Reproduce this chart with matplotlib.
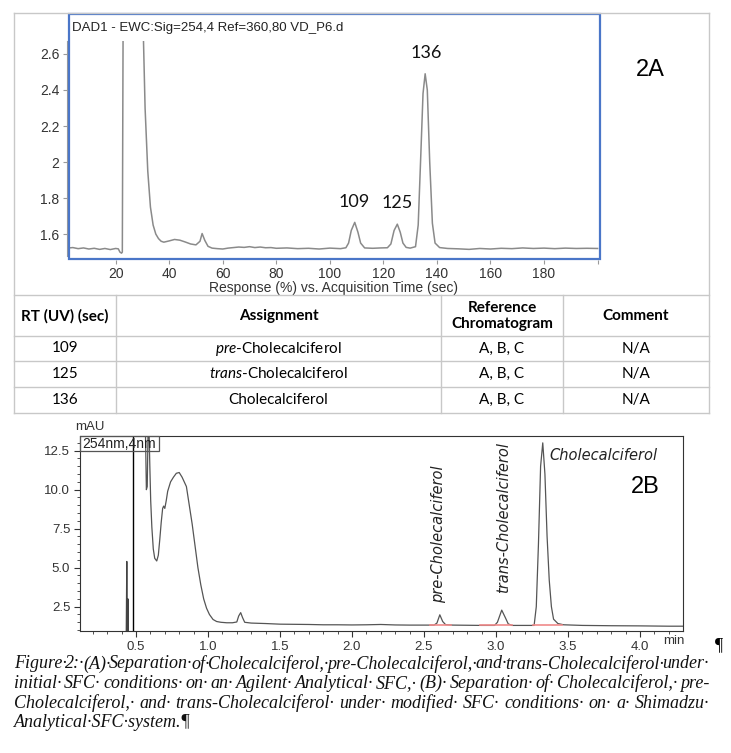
import matplotlib
matplotlib.use("Agg")
import matplotlib.pyplot as plt
from matplotlib.patches import Rectangle
from matplotlib.lines import Line2D
from matplotlib.ticker import MultipleLocator, FixedLocator

W, H = 731, 753

# ---- 2A: Agilent SFC trace, response vs time (sec) ----
a_time = [2, 4, 6, 8, 10, 12, 14, 16, 18, 20, 21, 21.6, 22.2, 22.5, 22.8, 30.2, 31, 32, 33, 34,
          35, 36, 37, 38, 40, 42, 44, 46, 48, 50, 51.5, 52.3, 53.3, 54.5, 56, 58, 60, 62, 64, 66,
          68, 70, 72, 74, 76, 78, 80, 84, 88, 92, 96, 100, 104, 106, 107, 108, 109.3, 110.5, 111.5, 113,
          116, 119, 121.5, 122.8, 124, 125.2, 126.3, 127.3, 128.5, 130, 132, 133, 134, 134.8, 135.6, 136.4, 137.3, 138.3, 139.3, 141,
          144, 148, 152, 156, 160, 164, 168, 172, 176, 180, 184, 188, 192, 196, 200]
a_resp = [1.522, 1.525, 1.519, 1.523, 1.517, 1.521, 1.515, 1.52, 1.514, 1.52, 1.518, 1.50, 1.494, 1.50, 2.80, 2.80, 2.30, 1.95, 1.75, 1.65,
          1.60, 1.575, 1.56, 1.555, 1.562, 1.570, 1.566, 1.556, 1.545, 1.54, 1.56, 1.603, 1.565, 1.532, 1.522, 1.519, 1.517, 1.522, 1.525, 1.528,
          1.526, 1.530, 1.525, 1.528, 1.524, 1.525, 1.521, 1.523, 1.519, 1.521, 1.517, 1.522, 1.519, 1.524, 1.55, 1.62, 1.665, 1.61, 1.55, 1.523,
          1.521, 1.523, 1.524, 1.545, 1.62, 1.655, 1.61, 1.55, 1.526, 1.522, 1.53, 1.65, 2.05, 2.38, 2.49, 2.40, 2.00, 1.66, 1.55, 1.525,
          1.52, 1.518, 1.515, 1.52, 1.517, 1.521, 1.519, 1.523, 1.52, 1.522, 1.519, 1.522, 1.52, 1.521, 1.52]
a_peak_rt = [109, 125, 136]
a_peak_top = [1.665, 1.655, 2.49]
a_xticks = [20, 40, 60, 80, 100, 120, 140, 160, 180, 200]
a_xlabels = ["20", "40", "60", "80", "100", "120", "140", "160", "180", ""]
a_yticks = [1.6, 1.8, 2.0, 2.2, 2.4, 2.6]
a_ylabels = ["1.6", "1.8", "2", "2.2", "2.4", "2.6"]

# ---- table ----
tbl_header = ["RT (UV) (sec)", "Assignment", "Reference\nChromatogram", "Comment"]
tbl_rt = ["109", "125", "136"]
tbl_assign = [r"$\mathit{pre}$-Cholecalciferol", r"$\mathit{trans}$-Cholecalciferol", "Cholecalciferol"]
tbl_ref = ["A, B, C", "A, B, C", "A, B, C"]
tbl_comment = ["N/A", "N/A", "N/A"]

# ---- 2B: Shimadzu SFC trace, mAU vs time (min) ----
b_spike_t = [0.432, 0.436, 0.439, 0.441, 0.444, 0.447]
b_spike_v = [0.5, 5.4, 0.5, 0.5, 3.0, 0.5]
b_marker_t = 0.478
b_time = [0.565, 0.572, 0.578, 0.584, 0.59, 0.596, 0.602, 0.61, 0.62, 0.63, 0.644, 0.655, 0.665, 0.675, 0.685, 0.692,
          0.70, 0.71, 0.72, 0.74, 0.76, 0.78, 0.80, 0.82, 0.835, 0.85, 0.87, 0.89, 0.91, 0.93, 0.95, 0.97,
          0.99, 1.01, 1.035, 1.06, 1.09, 1.13, 1.17, 1.2, 1.213, 1.227, 1.24, 1.255, 1.3, 1.4, 1.5, 1.6,
          1.7, 1.8, 1.9, 2.0, 2.1, 2.2, 2.3, 2.4, 2.5, 2.57, 2.59, 2.61, 2.63, 2.65, 2.7, 2.8,
          2.9, 2.99, 3.01, 3.04, 3.065, 3.085, 3.11, 3.2, 3.265, 3.28, 3.295, 3.31, 3.325, 3.34, 3.355, 3.37,
          3.385, 3.40, 3.43, 3.47, 3.6, 3.8, 4.0, 4.2, 4.3]
b_mau = [14.0, 10.0, 10.2, 14.0, 14.0, 11.5, 9.3, 7.6, 6.2, 5.6, 5.43, 5.8, 6.8, 7.9, 8.8, 8.95,
         8.8, 9.3, 9.9, 10.5, 10.8, 11.05, 11.1, 10.8, 10.5, 10.2, 9.0, 7.8, 6.4, 5.0, 3.9, 3.0,
         2.4, 2.0, 1.68, 1.55, 1.5, 1.47, 1.47, 1.52, 1.9, 2.12, 1.8, 1.5, 1.45, 1.42, 1.38, 1.37,
         1.36, 1.34, 1.34, 1.33, 1.34, 1.36, 1.33, 1.32, 1.32, 1.32, 1.45, 1.98, 1.55, 1.35, 1.32, 1.31,
         1.30, 1.30, 1.5, 2.28, 1.8, 1.4, 1.30, 1.30, 1.30, 2.5, 6.5, 11.5, 13.0, 11.0, 7.0, 4.2,
         2.5, 1.7, 1.42, 1.34, 1.30, 1.28, 1.27, 1.25, 1.25]
b_base_start = [2.54, 2.89, 3.26]
b_base_end = [2.69, 3.11, 3.46]
b_base_level = 1.30
b_names = ["pre-Cholecalciferol", "trans-Cholecalciferol", "Cholecalciferol"]
b_label_t = [2.60, 3.05, 3.368]
b_label_v = [2.75, 3.35, 12.2]

caption = [
    "Figure·2:·(A)·Separation·of·Cholecalciferol,·pre-Cholecalciferol,·and·trans-Cholecalciferol·under·",
    "initial·SFC·conditions·on·an·Agilent·Analytical·SFC,·(B)·Separation·of·Cholecalciferol,·pre-",
    "Cholecalciferol,·and·trans-Cholecalciferol·under·modified·SFC·conditions·on·a·Shimadzu·",
    "Analytical·SFC·system.¶",
]

plt.rcParams["mathtext.fontset"] = "custom"
plt.rcParams["mathtext.rm"] = "Lato"
plt.rcParams["mathtext.it"] = "Lato:italic"
plt.rcParams["mathtext.bf"] = "Lato:bold"

fig = plt.figure(figsize=(W / 100, H / 100), dpi=100)
fig.patch.set_facecolor("white")


def fx(x):
    return x / W


def fy(y):
    return 1 - y / H


def axes_px(left, top, right, bottom):
    return fig.add_axes([fx(left), fy(bottom), (right - left) / W, (bottom - top) / H])


def hline(y, x0, x1, **kw):
    fig.add_artist(Line2D([fx(x0), fx(x1)], [fy(y), fy(y)], transform=fig.transFigure, **kw))


def vline(x, y0, y1, **kw):
    fig.add_artist(Line2D([fx(x), fx(x)], [fy(y0), fy(y1)], transform=fig.transFigure, **kw))


# page frame + table grid
grid = dict(color="#c8c8c8", lw=1)
hline(13, 14, 709, **grid)
vline(14, 13, 413, **grid)
vline(709, 13, 413, **grid)
for y in [295, 336, 361, 387, 413]:
    hline(y, 14, 709, **grid)
for x in [116, 441, 563]:
    vline(x, 295, 413, **grid)

# ---- 2A plot ----
ax = axes_px(66.5, 41, 600, 260)
ax.plot(a_time, a_resp, color="#8a8a8a", lw=1.1)
ax.set_xlim(1.65, 200.9)
ax.set_ylim(1.456, 2.672)
for s in ["top", "right", "bottom"]:
    ax.spines[s].set_visible(False)
ax.spines["left"].set_color("#9a9a9a")
ax.spines["left"].set_bounds(1.48, 2.672)
ax.xaxis.set_major_locator(FixedLocator(a_xticks))
ax.set_xticklabels(a_xlabels)
ax.yaxis.set_major_locator(FixedLocator(a_yticks))
ax.set_yticklabels(a_ylabels)
ax.tick_params(axis="both", colors="#9a9a9a", labelcolor="#333333", labelsize=10, length=3, width=0.8, pad=2)
for lab in ax.get_xticklabels() + ax.get_yticklabels():
    lab.set_fontfamily("Liberation Sans")
ax.set_xlabel("Response (%) vs. Acquisition Time (sec)", fontsize=10, family="Liberation Sans",
              color="#333333", labelpad=0)
for rt, top in zip(a_peak_rt, a_peak_top):
    ax.text(rt, top + 0.115, str(rt), ha="center", va="center", fontsize=13, family="Lato", color="#111111")
fig.add_artist(Rectangle((fx(68.5), fy(259)), (600 - 68.5) / W, (259 - 14) / H, transform=fig.transFigure,
                         fill=False, edgecolor="#4a76c8", lw=1.6))
fig.text(fx(72), fy(28), "DAD1 - EWC:Sig=254,4 Ref=360,80 VD_P6.d", fontsize=9.5, family="Liberation Sans",
         color="#222222", va="center", ha="left")
fig.text(fx(650), fy(70), "2A", fontsize=17, family="Liberation Sans", ha="center", va="center")

# ---- table text ----
col_c = [65, 278.5, 502, 636]
tkw = dict(ha="center", va="center", fontsize=11, family="Lato")
fig.text(fx(col_c[0]), fy(316), tbl_header[0], weight="bold", **tkw)
fig.text(fx(col_c[1]), fy(316), tbl_header[1], weight="bold", **tkw)
fig.text(fx(col_c[2]), fy(316), tbl_header[2], weight="bold", linespacing=1.2, **tkw)
fig.text(fx(col_c[3]), fy(316), tbl_header[3], weight="bold", **tkw)
for i, yc in enumerate([348.5, 374, 400]):
    for c, val in zip(col_c, [tbl_rt[i], tbl_assign[i], tbl_ref[i], tbl_comment[i]]):
        fig.text(fx(c), fy(yc), val, **tkw)

# ---- 2B plot ----
bx = axes_px(80, 436, 683, 631)
bx.plot(b_spike_t, b_spike_v, color="#444444", lw=0.9)
bx.axvline(b_marker_t, color="black", lw=1.0)
bx.plot(b_time, b_mau, color="#555555", lw=0.9)
for s0, s1 in zip(b_base_start, b_base_end):
    bx.plot([s0, s1], [b_base_level, b_base_level], color="#f08a8a", lw=1.2)
bx.set_xlim(0.111, 4.299)
bx.set_ylim(0.942, 13.44)
for s in bx.spines.values():
    s.set_color("#333333")
    s.set_linewidth(0.8)
bx.xaxis.set_major_locator(FixedLocator([0.5, 1.0, 1.5, 2.0, 2.5, 3.0, 3.5, 4.0]))
bx.xaxis.set_minor_locator(MultipleLocator(0.1))
bx.yaxis.set_major_locator(FixedLocator([2.5, 5.0, 7.5, 10.0, 12.5]))
bx.yaxis.set_minor_locator(MultipleLocator(0.5))
bx.xaxis.set_major_formatter(plt.FuncFormatter(lambda v, p: f"{v:.1f}"))
bx.yaxis.set_major_formatter(plt.FuncFormatter(lambda v, p: f"{v:.1f}"))
bx.tick_params(which="major", length=4, width=0.8, colors="#333333", labelsize=9.5, pad=3)
bx.tick_params(which="minor", length=2, width=0.6, colors="#333333")
for lab in bx.get_xticklabels() + bx.get_yticklabels():
    lab.set_fontfamily("Liberation Sans")
for name, t, v in zip(b_names[:2], b_label_t[:2], b_label_v[:2]):
    bx.text(t, v, name, rotation=90, ha="center", va="bottom", fontsize=10.5, style="italic",
            family="DejaVu Sans", color="#222222")
bx.text(b_label_t[2], b_label_v[2], b_names[2], ha="left", va="center", fontsize=10.5, style="italic",
        family="DejaVu Sans", color="#222222")
fig.add_artist(Rectangle((fx(80), fy(450.5)), 79 / W, 14.5 / H, transform=fig.transFigure,
                         fill=False, edgecolor="#555555", lw=0.9))
fig.text(fx(119.5), fy(443.5), "254nm,4nm", ha="center", va="center", fontsize=10, family="Liberation Sans",
         color="#222222")
fig.text(fx(90), fy(427), "mAU", ha="center", va="center", fontsize=9.5, family="Liberation Sans", color="#333333")
fig.text(fx(674), fy(641), "min", ha="center", va="center", fontsize=9.5, family="Liberation Sans", color="#333333")
fig.text(fx(645), fy(487), "2B", ha="center", va="center", fontsize=17, family="Liberation Sans")
fig.text(fx(719), fy(646), "¶", ha="center", va="center", fontsize=13, family="Liberation Serif")

# ---- caption (justified like the Word paragraph) ----
renderer = fig.canvas.get_renderer()
cap_kw = dict(fontsize=13, family="Liberation Serif", style="italic", va="center", ha="left", color="#111111")
for i, (line, yc) in enumerate(zip(caption, [664, 683.5, 703, 722.5])):
    if i == len(caption) - 1:
        fig.text(fx(14), fy(yc), line, **cap_kw)
        continue
    words = line.split("·")
    tokens = [w + "·" for w in words[:-1]] + ([words[-1]] if words[-1] else [])
    texts = [fig.text(0, fy(yc), tok, **cap_kw) for tok in tokens]
    widths = [t.get_window_extent(renderer).width for t in texts]
    gap = (709 - 14 - sum(widths)) / (len(tokens) - 1)
    x = 14
    for t, w in zip(texts, widths):
        t.set_x(fx(x))
        x += w + gap

fig.savefig("out.png", dpi=100)
